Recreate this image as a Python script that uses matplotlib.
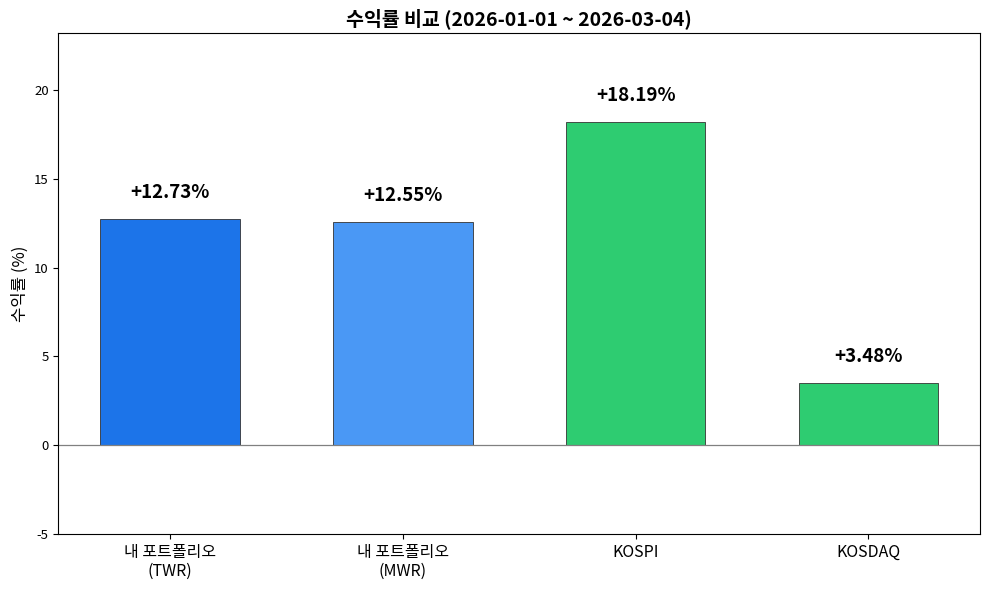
import matplotlib
matplotlib.use('Agg')
import matplotlib.pyplot as plt

plt.rcParams['font.family'] = ['Noto Sans CJK KR', 'DejaVu Sans']
plt.rcParams['axes.unicode_minus'] = False

# 수익률 데이터
labels = ['내 포트폴리오\n(TWR)', '내 포트폴리오\n(MWR)', 'KOSPI', 'KOSDAQ']
returns = [12.73, 12.55, 18.19, 3.48]
colors = ['#1c74e9', '#4a98f5', '#2ecc71', '#2ecc71']

fig, ax = plt.subplots(figsize=(9.9, 5.9), dpi=100)
x = range(len(labels))
bars = ax.bar(x, returns, width=0.6, color=colors, edgecolor='#333333', linewidth=0.6)

for b, v in zip(bars, returns):
    ax.text(b.get_x() + b.get_width() / 2, v + 0.95, f'+{v:.2f}%',
            ha='center', va='bottom', fontsize=13.5, fontweight='bold')

ax.axhline(0, color='gray', linewidth=0.9)
ax.set_xticks(list(x))
ax.set_xticklabels(labels, fontsize=11.5)
ax.set_yticks([-5, 0, 5, 10, 15, 20])
ax.tick_params(axis='y', labelsize=9.5)
ax.set_ylim(-5, 23.2)
ax.set_ylabel('수익률 (%)', fontsize=12)
ax.set_title('수익률 비교 (2026-01-01 ~ 2026-03-04)', fontsize=14, fontweight='bold')

plt.subplots_adjust(left=0.059, right=0.99, top=0.944, bottom=0.095)
plt.savefig('out.png', dpi=100)
